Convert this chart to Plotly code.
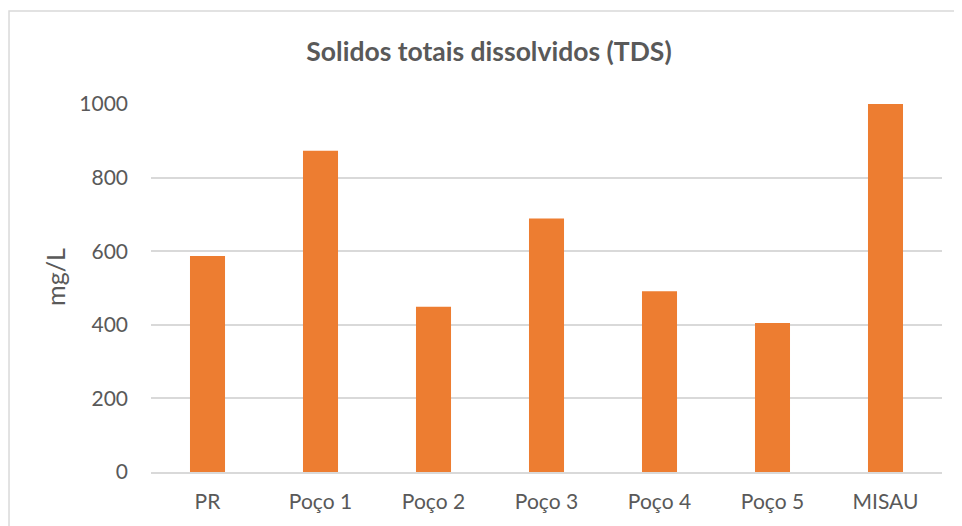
import plotly.graph_objects as go

categories = ["PR", "Poço 1", "Poço 2", "Poço 3", "Poço 4", "Poço 5", "MISAU"]
tds_values = [587, 873, 449, 689, 491, 405, 1000]
y_ticks = [0, 200, 400, 600, 800, 1000]

FONT = "Lato"
GREY = "#595959"

fig = go.Figure(
    go.Bar(
        x=categories,
        y=tds_values,
        marker=dict(color="#ED7D31", line=dict(width=0)),
        width=0.31,
    )
)

# the page body adds an 8px offset, margins compensate for it
fig.update_layout(
    width=962,
    height=526,
    margin=dict(l=143, r=28, t=96, b=62),
    paper_bgcolor="white",
    plot_bgcolor="white",
    showlegend=False,
    title=dict(
        text="<b>Solidos totais dissolvidos (TDS)</b>",
        x=0.5,
        xanchor="center",
        y=0.9163,
        yanchor="middle",
        font=dict(family=FONT, size=26.5, color=GREY),
    ),
    font=dict(family=FONT, color=GREY),
)

fig.update_xaxes(
    showgrid=False,
    showline=True,
    linecolor="#D9D9D9",
    linewidth=1.5,
    ticks="",
    tickfont=dict(family=FONT, size=21, color=GREY),
    ticklabelstandoff=10,
)
fig.update_yaxes(
    range=[0, 1000],
    tickvals=y_ticks,
    showgrid=True,
    gridcolor="#D9D9D9",
    gridwidth=1.5,
    zeroline=False,
    showline=False,
    ticks="",
    tickfont=dict(family=FONT, size=21, color=GREY),
    ticklabelstandoff=22,
)

fig.add_annotation(
    text="mg/L",
    xref="paper",
    yref="paper",
    x=-0.1214,
    y=0.53,
    xanchor="center",
    yanchor="middle",
    textangle=-90,
    showarrow=False,
    font=dict(family=FONT, size=25, color=GREY),
)

fig.add_shape(
    type="rect",
    xref="paper",
    yref="paper",
    x0=-0.1795,
    x1=1.06,
    y0=-0.25,
    y1=1.2527,
    line=dict(color="#D9D9D9", width=1.5),
    fillcolor="rgba(0,0,0,0)",
    layer="below",
)

fig.write_html("out.html")
